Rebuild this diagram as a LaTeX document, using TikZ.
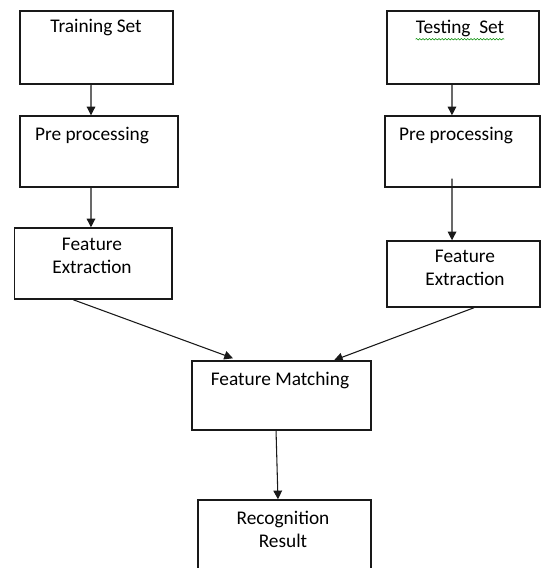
\documentclass[tikz,border=0pt]{standalone}
\usepackage{fontspec}
\setmainfont{Carlito}
\usetikzlibrary{arrows.meta,decorations.pathmorphing}
\tikzset{
  box/.style={draw=black!90,line width=1.1pt,rectangle,inner sep=0pt},
  lbl/.style={anchor=north,inner sep=0pt,align=center,text=black,
    font=\fontsize{14.5}{17.25}\selectfont},
  arr/.style={->,>={Triangle[length=6.5pt,width=6.5pt]},line width=0.8pt,draw=black!90}
}
\begin{document}
\begin{tikzpicture}[x=0.75pt,y=-0.75pt]
\useasboundingbox (0,0) rectangle (541,568);
\clip (0,0) rectangle (541,568);
% boxes
\node[box,minimum width=114.75pt,minimum height=54.75pt] (train) at (96.5,47.5) {};
\node[box,minimum width=118.5pt,minimum height=53.25pt] (preL) at (99,151.5) {};
\node[box,minimum width=118.1pt,minimum height=53.25pt] (featL) at (93.25,263.5) {};
\node[box,minimum width=114pt,minimum height=54.75pt] (test) at (463,47.5) {};
\node[box,minimum width=116.25pt,minimum height=53.25pt] (preR) at (462.5,151.5) {};
\node[box,minimum width=114.75pt,minimum height=49.5pt] (featR) at (463.5,274) {};
\node[box,minimum width=134.25pt,minimum height=51.75pt] (match) at (281.5,395.5) {};
\node[box,minimum width=129.75pt,minimum height=75pt] (result) at (284.5,550) {};
% texts
\node[lbl] (trainT) at (96,19) {Training Set};
\node[lbl] (preLT) at (92,127) {Pre processing};
\node[lbl] (featLT) at (92,238) {Feature\\Extraction};
\node[lbl] (testT) at (460,20) {Testing\ \ Set};
\node[lbl] (preRT) at (456,127) {Pre processing};
\node[lbl] (featRT) at (465,250) {Feature\\Extraction};
\node[lbl] (matchT) at (280,372) {Feature Matching};
\node[lbl] (resultT) at (283,511) {Recognition\\Result};
\draw[green!55!black,line width=0.4pt,decorate,
  decoration={snake,amplitude=0.55pt,segment length=2.4pt}]
  ([yshift=-1.5pt]testT.south west) -- ([yshift=-1.5pt]testT.south east);
% arrows
\draw[arr] ([xshift=-4.1pt]train.south) -- ([xshift=-6pt]preL.north);
\draw[arr] ([xshift=-6pt]preL.south) -- ([xshift=-1.7pt]featL.north);
\draw[arr] ([xshift=-8.25pt]test.south) -- ([xshift=-7.9pt]preR.north);
\draw[arr] ([xshift=-7.9pt,yshift=6.75pt]preR.south) -- ([xshift=-8.6pt]featR.north);
\draw[arr] ([xshift=-15pt]featL.south) -- ([xshift=-36.4pt,yshift=1.5pt]match.north);
\draw[arr] ([xshift=7.9pt]featR.south) -- ([xshift=39.4pt]match.north);
\draw[arr] ([xshift=-4.1pt]match.south) -- ([xshift=-4.9pt]result.north);
\end{tikzpicture}
\end{document}
